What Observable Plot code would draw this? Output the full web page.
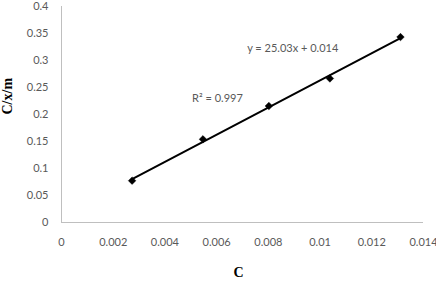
<!DOCTYPE html>
<html><head><meta charset="utf-8">
<script src="https://cdn.jsdelivr.net/npm/d3@7"></script>
<script src="https://cdn.jsdelivr.net/npm/@observablehq/plot@0.6"></script>
<style>body{margin:0;background:#fff}</style>
</head><body><div id="chart"></div>
<script>
const cValues = [0.00273, 0.00547, 0.00802, 0.01038, 0.01311];
const cxmValues = [0.0775, 0.154, 0.2157, 0.2667, 0.3434];
const xTicks = [0, 0.002, 0.004, 0.006, 0.008, 0.01, 0.012, 0.014];
const xTickLabels = ["0", "0.002", "0.004", "0.006", "0.008", "0.01", "0.012", "0.014"];
const yTicks = [0, 0.05, 0.1, 0.15, 0.2, 0.25, 0.3, 0.35, 0.4];
const yTickLabels = ["0", "0.05", "0.1", "0.15", "0.2", "0.25", "0.3", "0.35", "0.4"];
const annotations = [
  {x: 0.00718, y: 0.323, text: "y = 25.03x + 0.014"},
  {x: 0.00505, y: 0.230, text: "R² = 0.997"}
];
const data = cValues.map((c, i) => ({c, v: cxmValues[i]}));
const gray = "#595959";
const font = "Lato, 'Open Sans', sans-serif";
const chart = Plot.plot({
  width: 436, height: 289,
  marginLeft: 61, marginRight: 13, marginTop: 6, marginBottom: 67,
  style: {fontFamily: font, fontSize: "11px", color: gray, background: "#fff"},
  x: {domain: [0, 0.014]},
  y: {domain: [0, 0.4]},
  marks: [
    Plot.ruleX([0], {stroke: "#bfbfbf", strokeWidth: 1}),
    Plot.ruleY([0], {stroke: "#bfbfbf", strokeWidth: 1}),
    Plot.axisY({ticks: yTicks, tickFormat: (d, i) => yTickLabels[i], tickSize: 0, tickPadding: 13, label: null, fill: gray, fontSize: 11}),
    Plot.axisX({ticks: xTicks, tickFormat: (d, i) => xTickLabels[i], tickSize: 0, tickPadding: 16, label: null, fill: gray, fontSize: 11}),
    Plot.linearRegressionY(data, {x: "c", y: "v", ci: 0, stroke: "black", strokeWidth: 2}),
    Plot.dot(data, {x: "c", y: "v", symbol: "diamond2", r: 3.4, fill: "black", stroke: "black", strokeWidth: 0.5}),
    Plot.text(annotations, {x: "x", y: "y", text: "text", textAnchor: "start", fill: gray, fontSize: 11}),
    Plot.text(["C/x/m"], {frameAnchor: "left", rotate: -90, dx: -54, fontFamily: "'Liberation Serif', serif", fontWeight: "bold", fontSize: 14, fill: "black"}),
    Plot.text(["C"], {frameAnchor: "bottom", dy: 54, dx: -4, fontFamily: "'Liberation Serif', serif", fontWeight: "bold", fontSize: 14, fill: "black"})
  ]
});
document.getElementById("chart").appendChild(chart);
</script>
</body></html>
